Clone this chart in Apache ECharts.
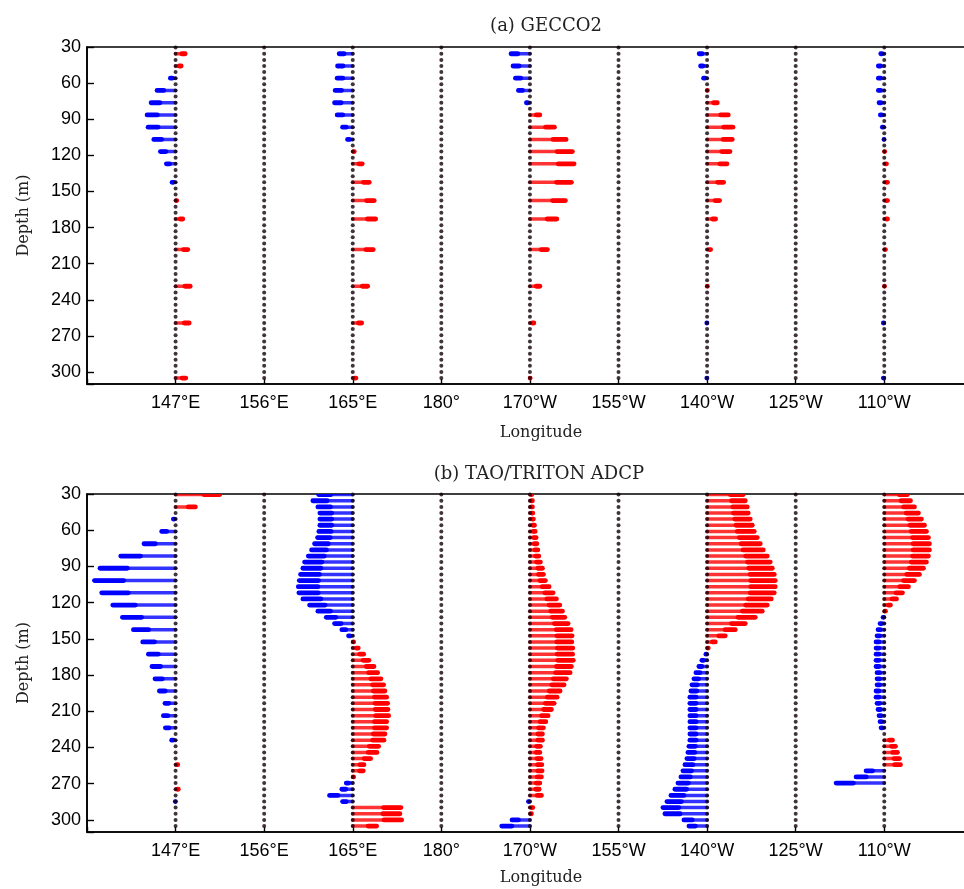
<!DOCTYPE html>
<html><head><meta charset="utf-8">
<script src="https://cdn.jsdelivr.net/npm/echarts/dist/echarts.min.js"></script>
<style>html,body{margin:0;padding:0;overflow:hidden;background:#fff}#c{width:1000px;height:889px}</style>
</head><body><div id="c"></div><script>
// x-axis: evenly spaced longitude slots (slot 1..9)
const lonLabels = ['147°E','156°E','165°E','180°','170°W','155°W','140°W','125°W','110°W'];
const stationSlots = {'147E':1,'165E':3,'170W':5,'140W':7,'110W':9};
const depthTicks = [30,60,90,120,150,180,210,240,270,300];

// measurement levels (m)
const depthsTAO = [30.5,35.6,40.7,45.8,50.8,55.9,61.0,66.1,71.2,76.3,81.4,86.4,91.5,96.6,101.7,106.8,111.9,116.9,122.0,127.1,132.2,137.3,142.4,147.5,152.5,157.6,162.7,167.8,172.9,178.0,183.1,188.1,193.2,198.3,203.4,208.5,213.6,218.6,223.7,228.8,233.9,239.0,244.1,249.2,254.2,259.3,264.4,269.5,274.6,279.7,284.8,289.8,294.9,300.0,305.1];
const depthsTAO147 = [30.5,40.7,50.8,61.0,71.2,81.4,91.5,101.7,111.9,122.0,132.2,142.4,152.5,162.7,172.9,183.1,193.2,203.4,213.6,223.7,233.9,244.1,254.2,264.4,274.6,284.8];
const depthsGECCO = [35.6,45.8,55.9,66.1,76.3,86.4,96.6,106.8,116.9,127.1,142.4,157.6,172.9,198.3,228.8,259.3,305.1];

// zonal velocity (cm/s, eastward positive) -- (a) GECCO2
const gecco147E = [11.4,7.4,-7,-20.3,-26.3,-30.3,-29.3,-23.6,-17,-11,-5.3,3,9,14,16.4,15.4,12];
const gecco165E = [-15.4,-17,-17.4,-19.4,-20,-17.4,-12,-7,3.3,11.3,18.3,23.3,24.7,22.3,16.7,10.7,5];
const gecco170W = [-20.7,-18.7,-16.3,-13.3,-5.3,11.7,26.3,38,44.3,46,43.3,37.3,28.7,19.3,11.7,5.7,1];
const gecco140W = [-9.7,-8.3,-5.3,1.5,12,23,27.7,27,24.7,21.7,18.3,14.3,10.3,5.3,1,-1.5,-1.5];
const gecco110W = [-5.3,-7.7,-7.7,-7.7,-7,-5.7,-3.7,-1,2.3,4,5,5,5,3,0.5,-2.7,-2.7];

// (b) TAO/TRITON ADCP
const tao147E = [46,21.6,-4,-15.7,-33.4,-56.7,-77.4,-83,-75.7,-64.7,-55,-44,-34.7,-29,-25.4,-22.4,-18,-12.4,-14,-12,-5.7,0,4,0,4.5,-2];
const tao165E = [-36,-41.7,-36.7,-34.7,-34.7,-34.7,-35.7,-37,-40,-43,-46.3,-50,-51.7,-54,-55.3,-56.3,-55.7,-51.7,-45,-36.7,-28.3,-20,-12.7,-6,2.7,7.3,12.7,18,23,26.7,30,32.7,34,35.7,36.7,37,37.7,35.7,35.7,34,33,27.7,26,19.7,13,12.3,2.7,-8.3,-12.7,-25,-12,50,49,50.7,25.7];
const tao170W = [3.7,4.3,4.3,4.7,5.3,6.3,7,8,8.7,9.7,10.7,12.3,14.3,15.3,17.3,21,25,28.3,31.7,34.3,36.7,40,43,44,43.7,44.7,44.5,45.2,43.3,42,38.3,36,32,29,26,23.3,20,17.7,15.3,14.3,14.3,12.3,11.7,13,13.7,14,13.3,11.7,11,13.3,-3.3,4.7,3.3,-19.7,-30];
const tao140W = [38,40,42,43,45,47,49,52,55,58,62,65,67,69,70,70,69,66,62,57,50,40,30,20,10,3,-3,-7,-10,-13,-15,-17,-18,-19,-19,-19,-19,-19,-19,-19,-19,-20,-21,-22,-24,-26,-28,-31,-34,-38,-42,-46,-44,-25,-20];
const tao110W = [25,28,32,36,39,42,44,46,47,47,46,44,41,37,32,26,20,14,8,3,-3,-6,-8,-9,-10,-10,-10,-10,-10,-9,-9,-9,-10,-10,-9,-8,-7,-6,-5,0,10,13,15,17,18,-20,-30,-50,0,0,0,0,0,0,0];

const SCALE = 88.65; // cm/s per longitude slot

function arrows(slot, depths, vals) {
  const out = [];
  vals.forEach((v, i) => { if (v) out.push([slot, depths[i], v]); });
  return out;
}
function dots(depths) {
  const out = [];
  for (let s = 1; s <= 9; s++) depths.forEach(d => out.push([s, d]));
  return out;
}
function renderArrow(params, api) {
  const pos = api.value(0), d = api.value(1), u = api.value(2);
  const p0 = api.coord([pos, d]);
  const p1 = api.coord([pos + u / SCALE, d]);
  const len = p1[0] - p0[0];
  const sgn = len >= 0 ? 1 : -1;
  const L = Math.max(Math.abs(len) - 1.8, 0.3);
  const xe = p0[0] + sgn * L;
  const xh = p0[0] + sgn * L * 0.64;
  const col = u >= 0 ? '#ff0000' : '#0000ff';
  return {type: 'group', children: [
    {type: 'line', shape: {x1: p0[0], y1: p0[1], x2: xe, y2: p0[1]}, style: {stroke: col, lineWidth: 3.5, lineCap: 'round', opacity: 0.8}},
    {type: 'line', shape: {x1: xh, y1: p0[1], x2: xe, y2: p0[1]}, style: {stroke: col, lineWidth: 4.8, lineCap: 'round'}}
  ]};
}

const panels = [
  {sets: [['147E', depthsGECCO, gecco147E], ['165E', depthsGECCO, gecco165E], ['170W', depthsGECCO, gecco170W], ['140W', depthsGECCO, gecco140W], ['110W', depthsGECCO, gecco110W]]},
  {sets: [['147E', depthsTAO147, tao147E], ['165E', depthsTAO, tao165E], ['170W', depthsTAO, tao170W], ['140W', depthsTAO, tao140W], ['110W', depthsTAO, tao110W]]}
];

const sansFont = 'Liberation Sans, Arial, sans-serif';
const serifFont = 'DejaVu Serif, serif';
const grids = [
  {left: 87, top: 47, width: 908, height: 337},
  {left: 87, top: 494, width: 908, height: 338}
];
const xAxes = [], yAxes = [], series = [];
grids.forEach((g, i) => {
  g.show = true; g.borderColor = '#000'; g.borderWidth = 1.6; g.backgroundColor = 'transparent';
  xAxes.push({
    gridIndex: i, type: 'value', min: 0, max: 10.25, interval: 1,
    name: 'Longitude', nameLocation: 'middle', nameGap: i === 0 ? 41 : 38,
    nameTextStyle: {fontFamily: serifFont, fontSize: 16, color: '#222'},
    axisLine: {show: true, lineStyle: {color: '#000', width: 1.6}},
    axisTick: {show: true, inside: true, length: 5, lineStyle: {color: '#000', width: 1.4}},
    axisLabel: {margin: 10, fontFamily: sansFont, fontSize: 18, color: '#000',
      formatter: v => lonLabels[v - 1] || '', showMaxLabel: false},
    splitLine: {show: false}
  });
  yAxes.push({
    gridIndex: i, type: 'value', inverse: true, min: 30, max: 310, interval: 30,
    name: 'Depth (m)', nameLocation: 'middle', nameGap: 55, nameRotate: 90,
    nameTextStyle: {fontFamily: serifFont, fontSize: 16, color: '#222'},
    axisLine: {show: true, lineStyle: {color: '#000', width: 1.6}},
    axisTick: {show: true, inside: true, length: 7, lineStyle: {color: '#000', width: 1.4}},
    axisLabel: {margin: 6, fontFamily: sansFont, fontSize: 18, color: '#000',
      formatter: v => depthTicks.indexOf(v) >= 0 ? String(v) : ''},
    splitLine: {show: false}
  });
  panels[i].sets.forEach(([st, dd, vv]) => {
    series.push({type: 'custom', xAxisIndex: i, yAxisIndex: i, clip: true, z: 2,
      renderItem: renderArrow, data: arrows(stationSlots[st], dd, vv), silent: true});
  });
  series.push({type: 'scatter', xAxisIndex: i, yAxisIndex: i, z: 5, symbol: 'circle', symbolSize: 4,
    itemStyle: {color: '#12000a'}, data: dots(depthsTAO), silent: true, animation: false});
});

const chart = echarts.init(document.getElementById('c'), null, {renderer: 'canvas'});
chart.setOption({
  animation: false,
  backgroundColor: '#fff',
  title: [
    {text: '(a) GECCO2', left: 541, top: 12, textAlign: 'center', textStyle: {fontFamily: serifFont, fontSize: 18, fontWeight: 'normal', color: '#222'}},
    {text: '(b) TAO/TRITON ADCP', left: 534, top: 460, textAlign: 'center', textStyle: {fontFamily: serifFont, fontSize: 18, fontWeight: 'normal', color: '#222'}}
  ],
  grid: grids, xAxis: xAxes, yAxis: yAxes, series: series
});
</script></body></html>
